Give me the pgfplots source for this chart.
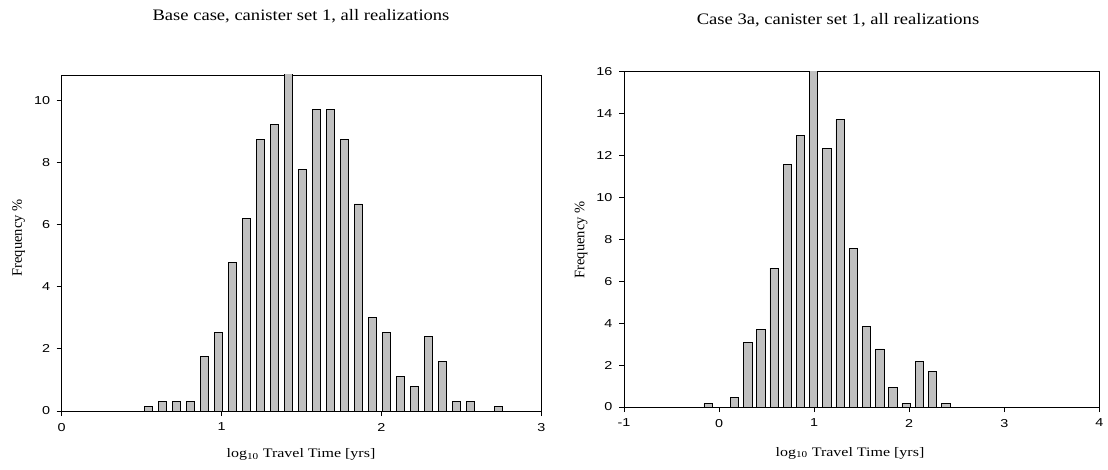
\documentclass[border=0pt]{standalone}
\usepackage{pgfplots}
\pgfplotsset{compat=1.18}
\usepackage{fontspec}
\setmainfont{Liberation Serif}
\newfontfamily\titlefont{Liberation Serif}[FakeStretch=1.16]
\newfontfamily\labfont{Liberation Serif}[FakeStretch=1.23]
\newfontfamily\tickfont{Liberation Sans}[FakeStretch=1.25]
\definecolor{bargray}{RGB}{192,192,192}
\pgfplotsset{
  histo/.style={
    scale only axis,
    anchor=south west,
    ymin=0,
    tick align=outside,
    xtick pos=bottom,
    ytick pos=left,
    major tick length=5pt,
    axis line style={line width=0.8pt},
    tick style={line width=0.8pt, black},
    /pgf/number format/assume math mode=true,
    ticklabel style={font=\tickfont\fontsize{11.5}{13}\selectfont},
    xticklabel style={yshift=-3.5pt},
    yticklabel style={xshift=-3pt},
    ybar,
    bar shift=0pt,
  },
  barstyle/.style={fill=bargray, draw=black, line width=0.7pt},
}
\begin{document}
\begin{tikzpicture}
\useasboundingbox (0pt,0pt) rectangle (1108pt,469pt);
% left
\begin{axis}[histo,
  at={(61.7pt,58pt)}, width=479.6pt, height=336pt,
  xmin=0, xmax=3, ymax=10.82,
  xtick={0,1,2,3}, ytick={0,2,4,6,8,10},
  bar width=0.052]
\addplot[barstyle] coordinates {
(0.542,0.15) (0.630,0.31) (0.717,0.31) (0.805,0.31) (0.892,1.76)
(0.980,2.54) (1.067,4.79) (1.155,6.19) (1.242,8.74) (1.330,9.23)
(1.418,11.5) (1.505,7.79) (1.593,9.70) (1.680,9.70) (1.768,8.74)
(1.855,6.67) (1.943,3.01) (2.030,2.54) (2.118,1.12) (2.206,0.79)
(2.293,2.40) (2.381,1.60) (2.468,0.31) (2.556,0.31) (2.731,0.15)
};
\end{axis}
% right
\begin{axis}[histo,
  at={(624pt,62pt)}, width=475.3pt, height=335.3pt,
  xmin=-1, xmax=4, ymax=16,
  xtick={-1,0,1,2,3,4}, ytick={0,2,4,6,8,10,12,14,16},
  bar width=0.088]
\addplot[barstyle] coordinates {
(-0.116,0.17) (0.162,0.46) (0.301,3.08) (0.440,3.70) (0.579,6.63)
(0.717,11.58) (0.856,12.94) (0.995,16.5) (1.134,12.34) (1.273,13.72)
(1.412,7.55) (1.551,3.85) (1.690,2.77) (1.829,0.92) (1.968,0.17)
(2.106,2.18) (2.245,1.70) (2.384,0.17)
};
\end{axis}
% titles
\node[anchor=base] at (301pt,448pt) {\titlefont\fontsize{16}{19}\selectfont Base case, canister set 1, all realizations};
\node[anchor=base] at (838pt,444pt) {\titlefont\fontsize{16}{19}\selectfont Case 3a, canister set 1, all realizations};
% x labels
\node[anchor=base] at (301pt,11.3pt) {\labfont\fontsize{13}{15}\selectfont log\textsubscript{10} Travel Time [yrs]};
\node[anchor=base] at (850pt,13pt) {\labfont\fontsize{13}{15}\selectfont log\textsubscript{10} Travel Time [yrs]};
% y labels
\node[rotate=90] at (18.5pt,231pt) {\fontsize{14.5}{17}\selectfont Frequency \%};
\node[rotate=90] at (581pt,229pt) {\fontsize{14.5}{17}\selectfont Frequency \%};
\end{tikzpicture}
\end{document}
